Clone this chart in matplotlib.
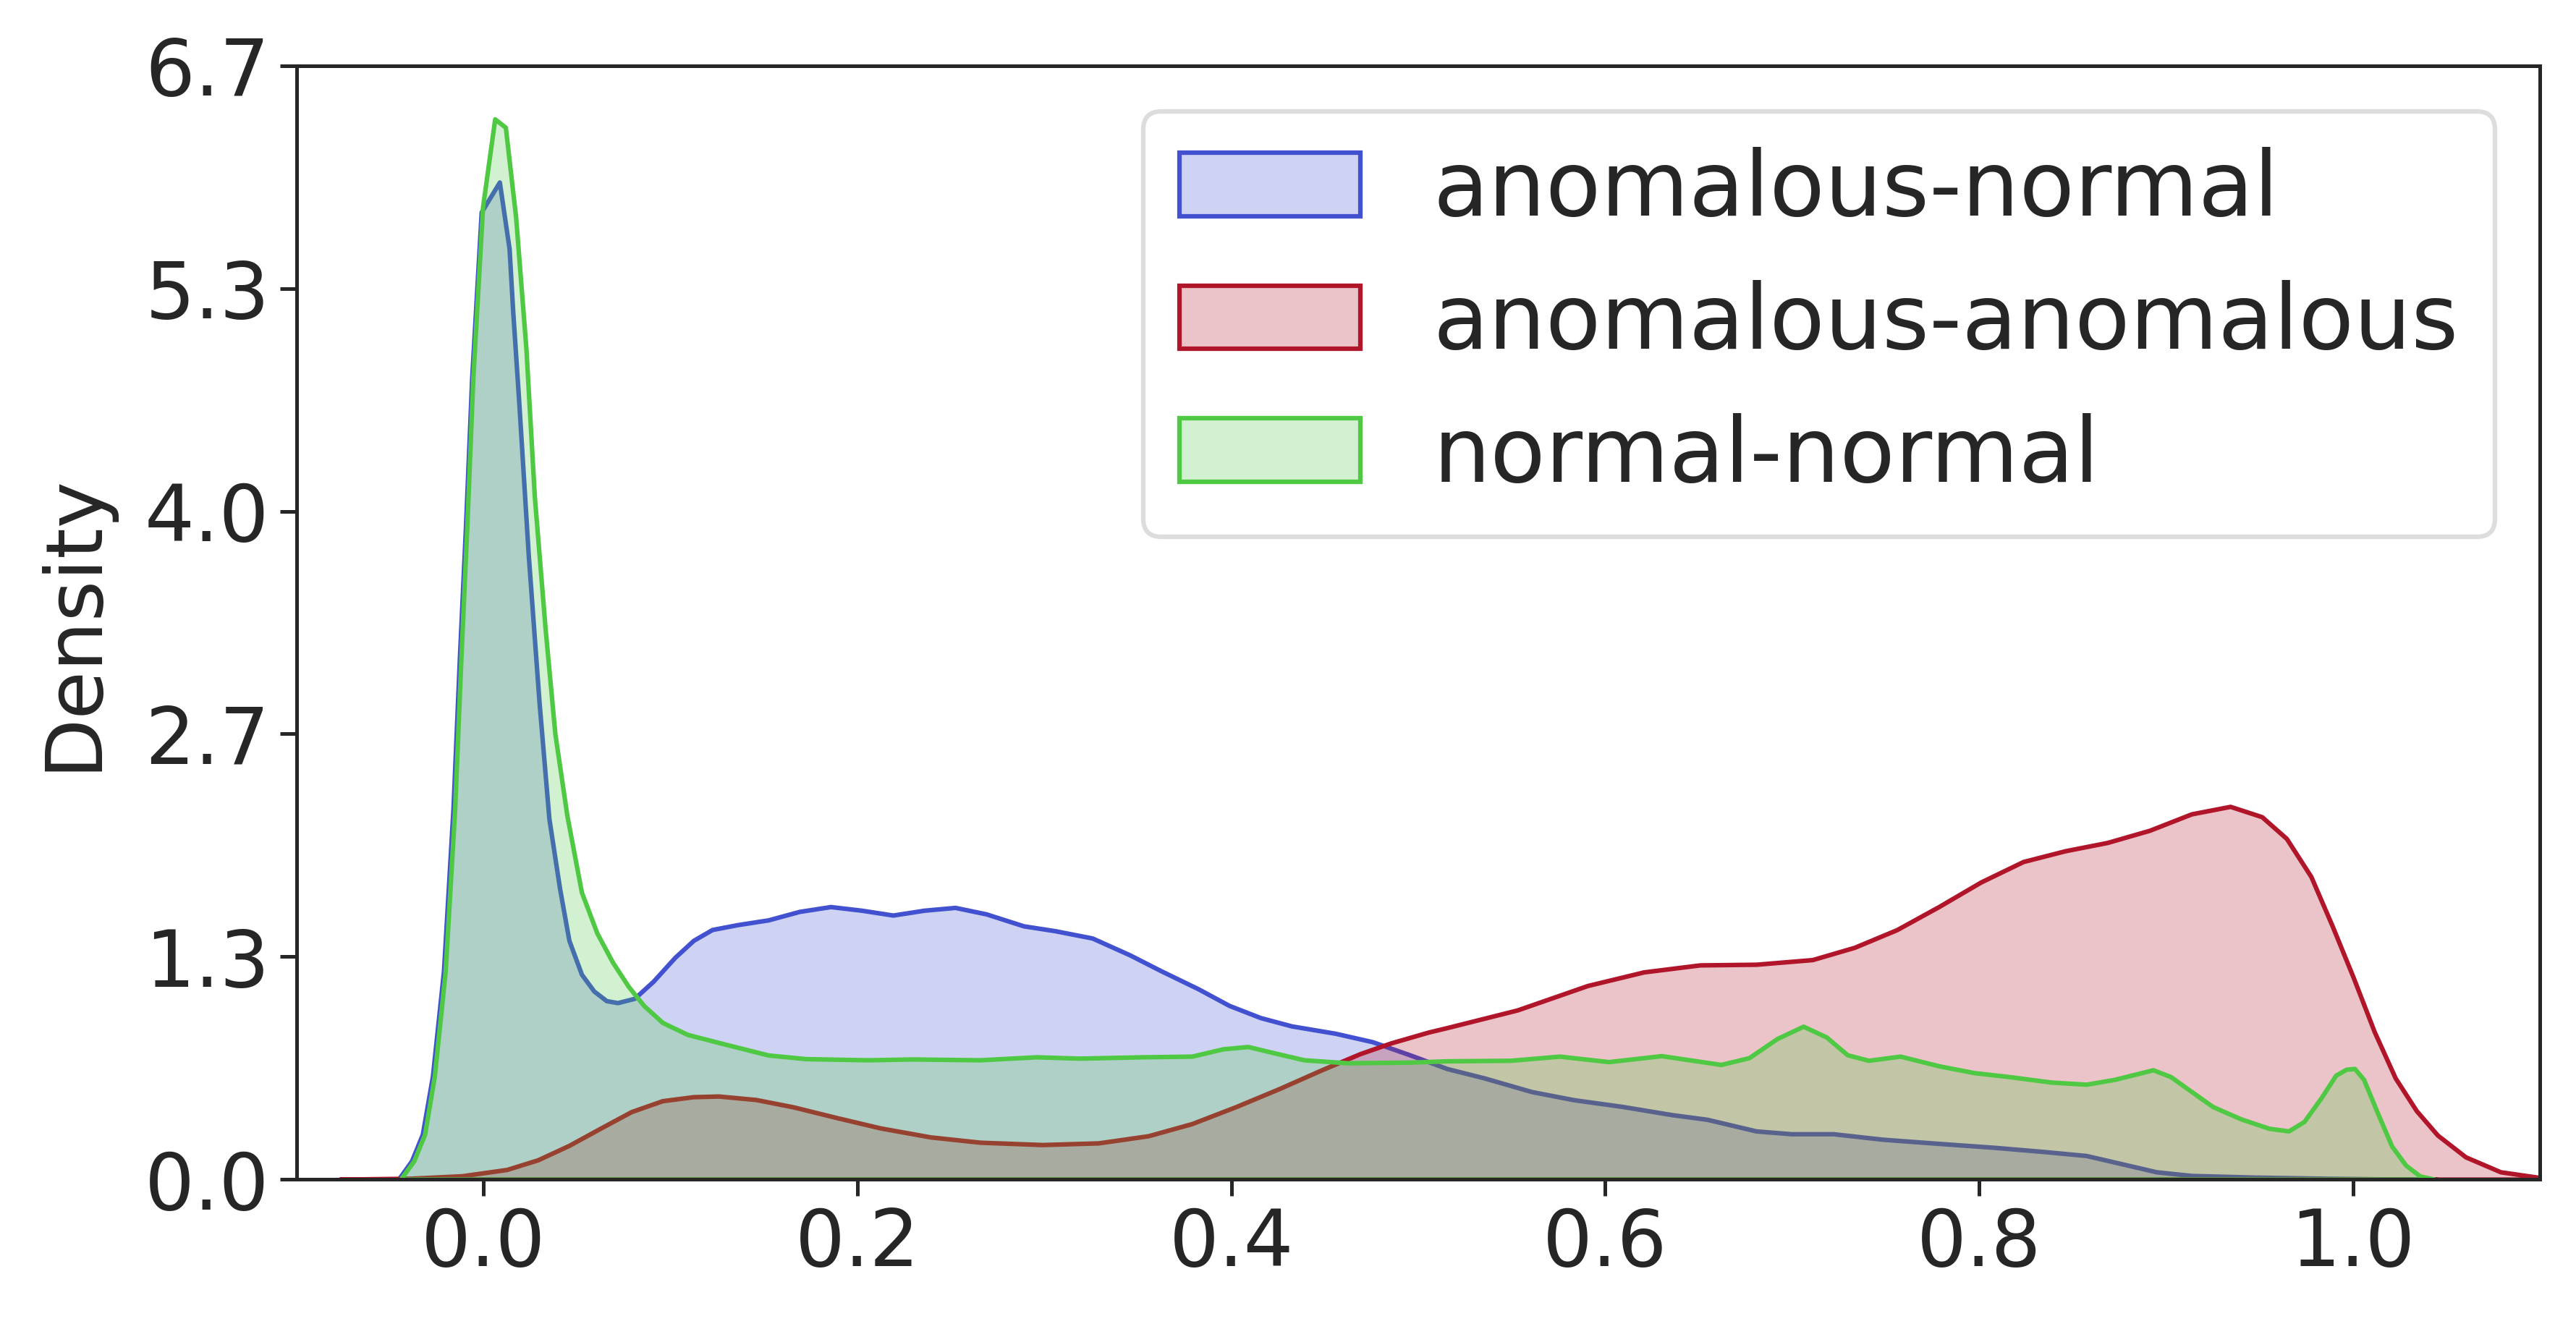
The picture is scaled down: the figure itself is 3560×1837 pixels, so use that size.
import numpy as np
import matplotlib
matplotlib.use("Agg")
import matplotlib.pyplot as plt
import seaborn as sns
from matplotlib.colors import to_rgba

labels = ["anomalous-normal", "anomalous-anomalous", "normal-normal"]

an_x = [-0.0455, -0.0385, -0.0327, -0.0273, -0.0214, -0.0163, -0.0129, -0.0096, -0.0063, -0.0012,
        0.0031, 0.0085, 0.0137, 0.0156, 0.0188, 0.024, 0.0298, 0.035, 0.0407, 0.0457, 0.0524,
        0.059, 0.0657, 0.0717, 0.0807, 0.0907, 0.1024, 0.1123, 0.1223, 0.1357, 0.1523, 0.169,
        0.1856, 0.2023, 0.219, 0.2356, 0.2523, 0.2689, 0.2889, 0.3056, 0.3256, 0.3456, 0.3622,
        0.3822, 0.3989, 0.4156, 0.4322, 0.4555, 0.4755, 0.4955, 0.5155, 0.535, 0.5606, 0.5831,
        0.6094, 0.6357, 0.6545, 0.6808, 0.6996, 0.7221, 0.7484, 0.7785, 0.8085, 0.8348, 0.8574,
        0.8762, 0.8949, 0.9137, 0.948, 0.987, 1.02, 1.045]
an_y = [0.0, 0.11, 0.27, 0.62, 1.25, 2.23, 3.13, 3.93, 4.82, 5.82,
        5.90, 6.00, 5.60, 5.23, 4.69, 3.75, 2.86, 2.17, 1.75, 1.437, 1.233,
        1.132, 1.074, 1.062, 1.088, 1.19, 1.335, 1.437, 1.502, 1.531, 1.56, 1.611,
        1.64, 1.618, 1.589, 1.618, 1.635, 1.596, 1.524, 1.495, 1.451, 1.35, 1.255,
        1.146, 1.045, 0.972, 0.922, 0.878, 0.827, 0.748, 0.665, 0.61, 0.527, 0.478,
        0.437, 0.388, 0.36, 0.29, 0.273, 0.273, 0.24, 0.215, 0.191, 0.166, 0.142,
        0.093, 0.044, 0.022, 0.012, 0.005, 0.001, 0.0]

aa_x = [-0.077, -0.04, -0.0117, 0.0124, 0.029, 0.0457, 0.0623, 0.079, 0.0957, 0.1123,
        0.1257, 0.1457, 0.1656, 0.189, 0.2123, 0.239, 0.2656, 0.2989, 0.3289, 0.3556, 0.3789,
        0.4022, 0.4255, 0.4488, 0.4689, 0.4855, 0.5055, 0.5155, 0.553, 0.5906, 0.6207, 0.6507,
        0.6808, 0.7109, 0.7334, 0.756, 0.7785, 0.801, 0.8236, 0.8461, 0.8687, 0.8912, 0.9137,
        0.9344, 0.9513, 0.9645, 0.9776, 0.9889, 1.0002, 1.0115, 1.0227, 1.034, 1.0453, 1.0603,
        1.079, 1.1, 1.12]
aa_y = [0.0, 0.005, 0.02, 0.058, 0.116, 0.203, 0.305, 0.406, 0.472, 0.496,
        0.50, 0.479, 0.435, 0.37, 0.308, 0.254, 0.222, 0.208, 0.218, 0.261, 0.334,
        0.435, 0.544, 0.66, 0.755, 0.82, 0.885, 0.912, 1.018, 1.165, 1.247, 1.289,
        1.293, 1.321, 1.395, 1.501, 1.64, 1.788, 1.911, 1.976, 2.026, 2.099, 2.198,
        2.243, 2.181, 2.05, 1.821, 1.526, 1.215, 0.887, 0.609, 0.412, 0.265, 0.134,
        0.044, 0.01, 0.0]

nn_x = [-0.0444, -0.0373, -0.0315, -0.0263, -0.0205, -0.0154, -0.0121, -0.0089, -0.0057,
        -0.0005, 0.006, 0.0117, 0.0172, 0.0227, 0.0272, 0.033, 0.0382, 0.0446, 0.0524, 0.0607,
        0.069, 0.0774, 0.0857, 0.0957, 0.109, 0.129, 0.1523, 0.1723, 0.2057, 0.229, 0.2656,
        0.2956, 0.3189, 0.3522, 0.3789, 0.3955, 0.4089, 0.4222, 0.4389, 0.4622, 0.4955, 0.5155,
        0.5493, 0.5756, 0.6019, 0.6301, 0.662, 0.677, 0.692, 0.706, 0.7184, 0.7296, 0.7409,
        0.7578, 0.7785, 0.7973, 0.8161, 0.8386, 0.8574, 0.8724, 0.8931, 0.9025, 0.9137, 0.925,
        0.94, 0.9551, 0.9656, 0.9739, 0.9833, 0.9908, 0.9964, 1.0009, 1.0058, 1.0133, 1.0208,
        1.0283, 1.0359, 1.0436]
nn_y = [0.0, 0.11, 0.27, 0.62, 1.25, 2.23, 3.13, 3.93, 4.82,
        5.85, 6.38, 6.33, 5.79, 5.00, 4.11, 3.31, 2.68, 2.19, 1.727, 1.48,
        1.306, 1.161, 1.045, 0.943, 0.871, 0.813, 0.747, 0.725, 0.718, 0.723, 0.718,
        0.736, 0.728, 0.736, 0.74, 0.784, 0.798, 0.762, 0.718, 0.70, 0.704, 0.712,
        0.715, 0.74, 0.707, 0.743, 0.69, 0.731, 0.846, 0.92, 0.855, 0.748, 0.715,
        0.74, 0.682, 0.641, 0.617, 0.584, 0.571, 0.60, 0.658, 0.617, 0.527, 0.437,
        0.363, 0.306, 0.29, 0.347, 0.494, 0.625, 0.661, 0.666, 0.60, 0.396, 0.199,
        0.084, 0.019, 0.0]

series_x = [an_x, aa_x, nn_x]
series_y = [an_y, aa_y, nn_y]
colors = ["#4251d0", "#b0152a", "#4fc844"]

ytick_vals = np.linspace(0, 6.7, 6)
ytick_labels = ["0.0", "1.3", "2.7", "4.0", "5.3", "6.7"]
xtick_vals = [0.0, 0.2, 0.4, 0.6, 0.8, 1.0]
xtick_labels = ["0.0", "0.2", "0.4", "0.6", "0.8", "1.0"]

# ---- plotting ----
sns.set_theme(style="ticks")
plt.rcParams["font.family"] = ["DejaVu Sans"]

W, H = 3560, 1837
fig = plt.figure(figsize=(W / 300, H / 300), dpi=300)
ax = fig.add_axes([410 / W, 1 - 1630 / H, 3100 / W, 1539 / H])

for xs, ys, c, lab in zip(series_x, series_y, colors, labels):
    ax.fill_between(xs, ys, 0, facecolor=to_rgba(c, 0.25), edgecolor=to_rgba(c, 1.0),
                    linewidth=1.5, label=lab)

ax.set_xlim(-0.1, 1.1)
ax.set_ylim(0, 6.7)
ax.set_yticks(ytick_vals)
ax.set_yticklabels(ytick_labels)
ax.set_xticks(xtick_vals)
ax.set_xticklabels(xtick_labels)
ax.tick_params(axis="both", labelsize=26, length=5.5, width=1.2, color="#262626",
               labelcolor="#262626")
for s in ax.spines.values():
    s.set_linewidth(1.2)
    s.set_color("#262626")
ax.set_ylabel("Density", fontsize=26, color="#262626", labelpad=11)
ax.set_xlabel("")

leg = ax.legend(loc="upper right", fontsize=30, frameon=True, labelspacing=0.5,
                borderaxespad=0.5)
leg.get_frame().set_edgecolor("#d5d5d5")
leg.get_frame().set_linewidth(1.5)

fig.savefig("out.png", dpi=300)
